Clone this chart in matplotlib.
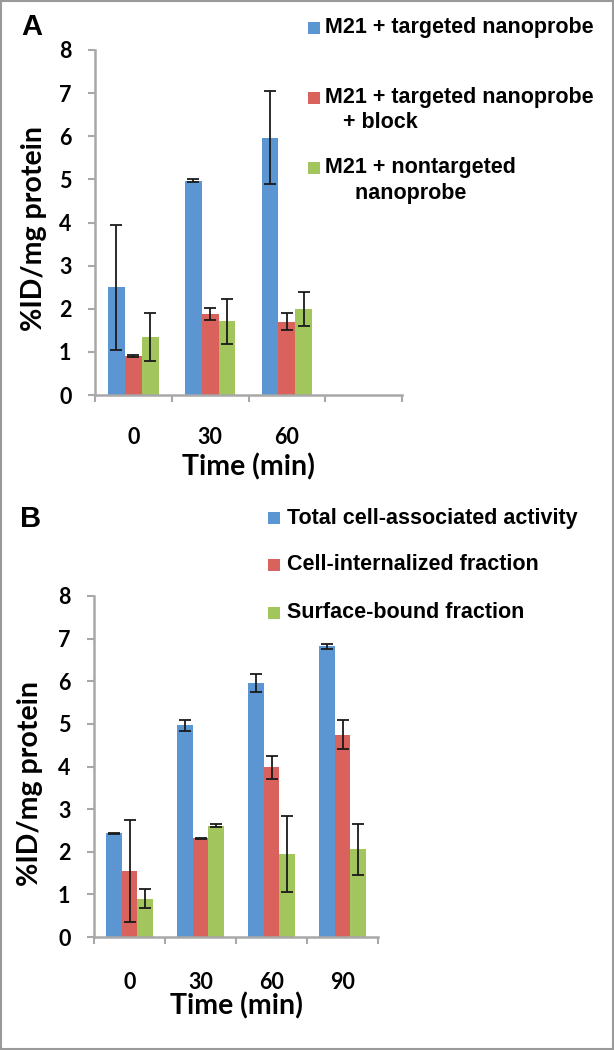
import matplotlib
matplotlib.use("Agg")
import matplotlib.pyplot as plt
from matplotlib.patches import Rectangle
import numpy as np

# ---------------- data ----------------
times_a = ["0", "30", "60"]
labels_a = ["M21 + targeted nanoprobe",
            "M21 + targeted nanoprobe\n   + block",
            "M21 + nontargeted\n     nanoprobe"]
targeted = [2.50, 4.97, 5.97]
targeted_err = [1.45, 0.03, 1.07]
blocked = [0.90, 1.87, 1.70]
blocked_err = [0.02, 0.14, 0.20]
nontargeted = [1.35, 1.71, 2.00]
nontargeted_err = [0.56, 0.52, 0.40]

times_b = ["0", "30", "60", "90"]
labels_b = ["Total cell-associated activity",
            "Cell-internalized fraction",
            "Surface-bound fraction"]
total = [2.43, 4.97, 5.95, 6.82]
total_err = [0.01, 0.13, 0.21, 0.06]
internalized = [1.55, 2.32, 3.98, 4.75]
internalized_err = [1.20, 0.01, 0.27, 0.34]
surface = [0.90, 2.61, 1.94, 2.06]
surface_err = [0.22, 0.04, 0.89, 0.60]

colors = ["#5B96D3", "#D9625C", "#A2C55E"]
spine_col = "#A8A8A8"
W, H = 614, 1050

fig = plt.figure(figsize=(W / 100, H / 100), dpi=100)

def fx(px):
    return px / W

def fy(py):
    return 1 - py / H

tick_font = dict(family="Lato", weight="bold", size=15.5)
label_font = dict(family="Lato", weight="bold", size=20.5)
legend_font = dict(family="Liberation Sans", weight="bold", size=15.5)


def panel(rect, times, nslots, series, errs, xlab_y, ylab_xy, xpad):
    ax = fig.add_axes(rect)
    n = len(series)
    width = 0.22
    x = np.arange(len(times))
    for i, (vals, err) in enumerate(zip(series, errs)):
        xi = x + (i - (n - 1) / 2) * width
        ax.bar(xi, vals, width, color=colors[i], edgecolor="none", zorder=2)
        ax.errorbar(xi, vals, yerr=err, fmt="none", ecolor="#1a1a1a",
                    elinewidth=1.3, capsize=4.2, capthick=1.3, zorder=3)
    ax.set_xlim(-0.5, nslots - 0.5)
    ax.set_ylim(0, 8)
    ax.set_yticks(range(0, 9))
    ax.set_yticklabels([str(v) for v in range(0, 9)], **tick_font)
    ticklabels = list(times) + [""] * (nslots - len(times))
    ax.set_xticks(range(nslots))
    ax.set_xticklabels(ticklabels, **tick_font)
    ax.set_xticks(np.arange(-0.5, nslots, 1.0), minor=True)
    ax.tick_params(axis="x", which="major", length=0, pad=xpad)
    ax.tick_params(axis="x", which="minor", length=5, width=1.5,
                   color=spine_col, direction="out")
    ax.tick_params(axis="y", length=5, width=1.5, color=spine_col,
                   direction="out", pad=12)
    for s in ["top", "right"]:
        ax.spines[s].set_visible(False)
    for s in ["left", "bottom"]:
        ax.spines[s].set_color(spine_col)
        ax.spines[s].set_linewidth(1.8)
    ax.set_xlabel("Time (min)", **label_font)
    ax.xaxis.label.set_va("center")
    ax.xaxis.set_label_coords(0.5, xlab_y)
    ax.set_ylabel("%ID/mg protein", **label_font)
    ax.yaxis.label.set_va("center")
    ax.yaxis.set_label_coords(*ylab_xy)
    return ax


# panel A axes: x 95..402 px, y 50..395 px
panel([fx(95), fy(395), fx(402) - fx(95), fy(50) - fy(395)],
      times_a, 4, [targeted, blocked, nontargeted],
      [targeted_err, blocked_err, nontargeted_err],
      -0.209, (-0.20, 0.484), 23)

# panel B axes: x 94..378 px, y 596..937 px
panel([fx(94), fy(937), fx(378) - fx(94), fy(596) - fy(937)],
      times_b, 4, [total, internalized, surface],
      [total_err, internalized_err, surface_err],
      -0.202, (-0.225, 0.449), 25)


def legend(labels, sq_x, txt_x, ys, sq=12, gap=25):
    for i, (lab, y) in enumerate(zip(labels, ys)):
        fig.patches.append(Rectangle((fx(sq_x), fy(y + sq / 2)), fx(sq), sq / H,
                                     transform=fig.transFigure,
                                     facecolor=colors[i], edgecolor="none"))
        for j, line in enumerate(lab.split("\n")):
            fig.text(fx(txt_x), fy(y + j * gap), line, ha="left", va="center",
                     **legend_font)


legend(labels_a, 308, 325, [28, 98, 168])
legend(labels_b, 268, 287, [518, 565, 613])

fig.text(fx(32), fy(27), "A", ha="center", va="center",
         family="Liberation Sans", weight="bold", size=21)
fig.text(fx(31), fy(519), "B", ha="center", va="center",
         family="Liberation Sans", weight="bold", size=21)

fig.patches.append(Rectangle((0.0015, 0.001), 0.997, 0.998,
                             transform=fig.transFigure, facecolor="none",
                             edgecolor="#9A9A9A", linewidth=1.5))

fig.savefig("out.png", dpi=100)
